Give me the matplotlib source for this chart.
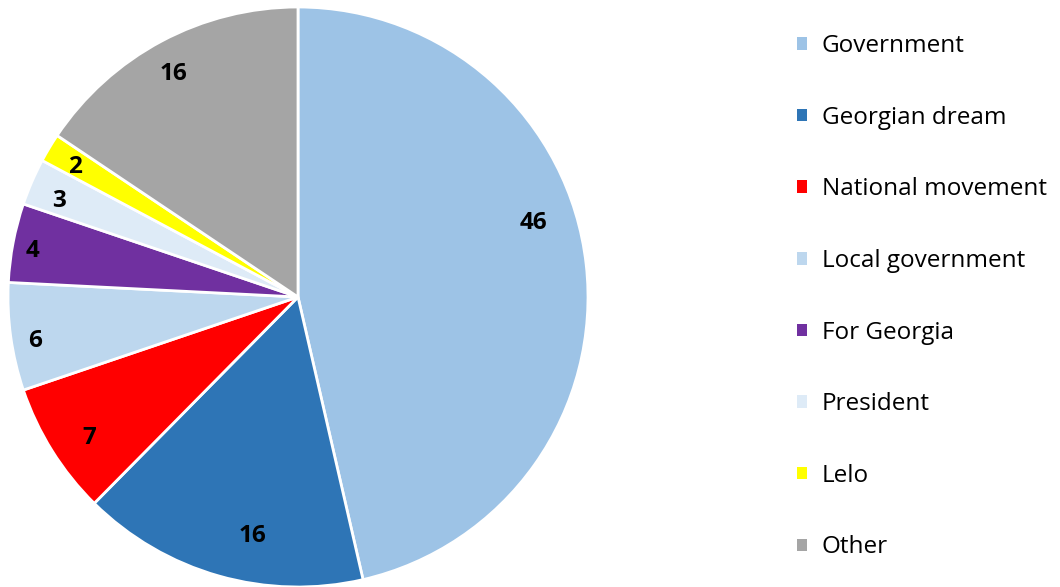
import matplotlib
matplotlib.use("Agg")
import matplotlib.pyplot as plt
import numpy as np

categories = ["Government", "Georgian dream", "National movement", "Local government",
              "For Georgia", "President", "Lelo", "Other"]
values = [46.4, 16.0, 7.4, 6.0, 4.4, 2.6, 1.6, 15.6]
value_labels = ["46", "16", "7", "6", "4", "3", "2", "16"]
colors = ["#9DC3E6", "#2E75B6", "#FF0000", "#BDD7EE", "#7030A0", "#DEEBF7", "#FFFF00", "#A5A5A5"]

# label placement tweaks (angle shift in degrees, radial distance)
label_shift = [11, 5, 2, 1.5, 1, 1.5, 0.7, 1]
label_dist = [0.85, 0.84, 0.87, 0.92, 0.93, 0.89, 0.89, 0.88]

plt.rcParams['font.family'] = ['Open Sans', 'DejaVu Sans']

W, H = 1060, 587
fig = plt.figure(figsize=(W / 100, H / 100), dpi=100)
cx, cy, r = 298, 290, 290
ax = fig.add_axes([(cx - r) / W, (cy - r) / H, 2 * r / W, 2 * r / H])

wedges, _ = ax.pie(values, colors=colors, startangle=90, counterclock=False,
                   wedgeprops=dict(edgecolor="white", linewidth=2))
for w, lab, sh, d in zip(wedges, value_labels, label_shift, label_dist):
    ang = np.deg2rad((w.theta1 + w.theta2) / 2 + sh)
    ax.text(d * np.cos(ang), d * np.sin(ang), lab, fontsize=17.5, fontweight="bold",
            color="black", ha="center", va="center")
ax.set_xlim(-1, 1)
ax.set_ylim(-1, 1)
ax.set_aspect("auto")
ax.axis("off")

leg = fig.legend(wedges, categories, loc="upper left",
                 bbox_to_anchor=(797 / W, 1 - 34 / H),
                 frameon=False, fontsize=17.5, handlelength=0.42, handleheight=0.42,
                 handletextpad=0.6, labelspacing=1.96, borderaxespad=0, borderpad=0)
for p in leg.get_patches():
    p.set_edgecolor("none")
    p.set_linewidth(0)

fig.savefig("out.png", dpi=100)
